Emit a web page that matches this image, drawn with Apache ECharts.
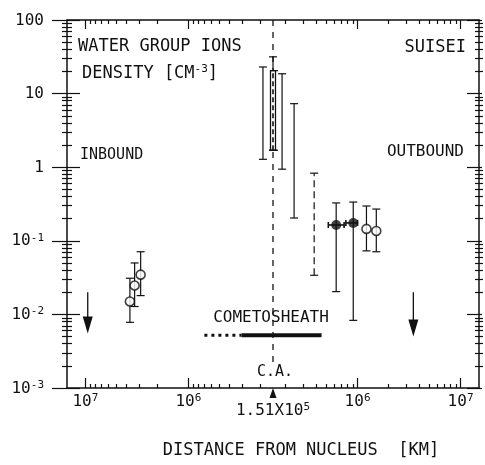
<!DOCTYPE html>
<html><head><meta charset="utf-8">
<script src="https://cdn.jsdelivr.net/npm/echarts@6/dist/echarts.min.js"></script>
<style>html,body{margin:0;padding:0;background:#fff}#c{width:485px;height:465px}</style>
</head><body><div id="c"></div>
<script>
// ---------- data ----------
const caDistance = 1.51e5;            // closest approach, km
const xMin = -2.0, xMax = 2.0;        // axis extent in decades from C.A.
const yMin = 1e-3, yMax = 100;

// open circles
const openSide = ['in', 'in', 'in', 'out', 'out'];
const openDist = [3.7e6, 3.33e6, 2.91e6, 1.22e6, 1.52e6];
const openDens = [0.015, 0.0247, 0.0347, 0.145, 0.136];
const openLow  = [0.0078, 0.0128, 0.018, 0.073, 0.071];
const openHigh = [0.031, 0.05, 0.071, 0.297, 0.27];

// filled circles
const filledSide = ['out', 'out'];
const filledDist = [6.2e5, 9.08e5];
const filledDens = [0.164, 0.175];
const filledLow  = [0.0204, 0.0083];
const filledHigh = [0.327, 0.336];
const filledDistLow  = [5.2e5, 7.7e5];
const filledDistHigh = [7.4e5, 1.0e6];

// range-only bars near closest approach
const rangeSide = ['in', 'ca', 'out', 'out', 'out'];
const rangeDist = [1.89e5, 1.51e5, 1.85e5, 2.42e5, 3.79e5];
const rangeLow  = [1.28, 1.7, 0.94, 0.204, 0.034];
const rangeHigh = [23, 31.6, 18.6, 7.3, 0.83];
const rangeDashed = [0, 0, 0, 0, 1];

// thick band at C.A.
const caBandLow = 1.7, caBandHigh = 20.5;

// upper limits (arrows)
const limitSide = ['in', 'out'];
const limitDist = [9.5e6, 3.48e6];
const limitFrom = [0.02, 0.02];
const limitTo   = [0.0055, 0.005];

// cometosheath bar
const sheathDens = 0.0052;
const sheathDottedSide = ['in', 'in'];
const sheathDottedDist = [7.0e5, 3.05e5];
const sheathSolidSide = ['in', 'out'];
const sheathSolidDist = [3.05e5, 4.47e5];

// C.A. dashed line
const caLineTop = 100, caLineBottom = 0.0022;

// ticks
const xMajorSide = ['in', 'in', 'out', 'out'];
const xMajorDist = [1e7, 1e6, 1e6, 1e7];
const xMajorLabels = ['{b|10}{s|7}', '{b|10}{s|6}', '{b|10}{s|6}', '{b|10}{s|7}'];
const xMinorDist = [2e5, 3e5, 4e5, 5e5, 6e5, 7e5, 8e5, 9e5, 2e6, 3e6, 4e6, 5e6, 6e6, 7e6, 8e6, 9e6];
const caLabel = '{b|1.51X10}{s|5}';
const yMajorVals = [1e-3, 1e-2, 1e-1, 1, 10, 100];
const yMajorLabels = ['{b|10}{s|-3}', '{b|10}{s|-2}', '{b|10}{s|-1}', '{b|1}', '{b|10}', '{b|100}'];
const yMinorVals = [
  2e-3, 3e-3, 4e-3, 5e-3, 6e-3, 7e-3, 8e-3, 9e-3,
  2e-2, 3e-2, 4e-2, 5e-2, 6e-2, 7e-2, 8e-2, 9e-2,
  0.2, 0.3, 0.4, 0.5, 0.6, 0.7, 0.8, 0.9,
  2, 3, 4, 5, 6, 7, 8, 9,
  20, 30, 40, 50, 60, 70, 80, 90
];

// ---------- helpers ----------
const LOG_CA = Math.log10(caDistance);
function toU(side, d) {
  if (side === 'ca') return 0;
  const v = Math.log10(d) - LOG_CA;
  return side === 'in' ? -v : v;
}
const FONT = 'DejaVu Sans Mono';
const INK = '#111';

const xMajorU = xMajorSide.map((s, i) => toU(s, xMajorDist[i]));
const xMinorU = xMinorDist.map(d => toU('in', d)).concat(xMinorDist.map(d => toU('out', d)));
const yMajorLog = yMajorVals.map(v => Math.log10(v));
const yMinorLog = yMinorVals.map(v => Math.log10(v));
function nearestIdx(arr, v) {
  let best = 0; for (let i = 1; i < arr.length; i++) if (Math.abs(arr[i] - v) < Math.abs(arr[best] - v)) best = i; return best;
}

const supRich = {
  b: { fontFamily: FONT, fontSize: 16, color: INK, verticalAlign: 'bottom', lineHeight: 17 },
  s: { fontFamily: FONT, fontSize: 11, color: INK, verticalAlign: 'top', lineHeight: 11, padding: [0, 0, 11, 0] }
};

function tickX(pos, inside, len, vals, extra) {
  return Object.assign({
    type: 'value', position: pos, min: xMin, max: xMax, gridIndex: 0,
    axisLine: { show: false, onZero: false },
    axisLabel: { show: false }, splitLine: { show: false },
    axisTick: { show: true, inside: inside, length: len, customValues: vals, lineStyle: { color: INK, width: 1.2 } }
  }, extra || {});
}
function tickY(pos, inside, len, vals, extra) {
  return Object.assign({
    type: 'value', position: pos, min: -3, max: 2, gridIndex: 0,
    axisLine: { show: false, onZero: false },
    axisLabel: { show: false }, splitLine: { show: false },
    axisTick: { show: true, inside: inside, length: len, customValues: vals, lineStyle: { color: INK, width: 1.2 } }
  }, extra || {});
}
const axisLineStyle = { show: true, onZero: false, lineStyle: { color: INK, width: 1.5 } };

// ---------- render functions ----------
function vbar(api, x, lo, hi, dashed, cap, w) {
  const a = api.coord([x, lo]), b = api.coord([x, hi]);
  const st = { stroke: INK, lineWidth: w || 1.2 };
  const ls = Object.assign({}, st, dashed ? { lineDash: [7, 4] } : {});
  return [
    { type: 'line', shape: { x1: a[0], y1: a[1], x2: b[0], y2: b[1] }, style: ls },
    { type: 'line', shape: { x1: a[0] - cap, y1: a[1], x2: a[0] + cap, y2: a[1] }, style: st },
    { type: 'line', shape: { x1: b[0] - cap, y1: b[1], x2: b[0] + cap, y2: b[1] }, style: st }
  ];
}

const option = {
  animation: false,
  backgroundColor: '#fff',
  textStyle: { fontFamily: FONT, color: INK },
  grid: { left: 67, right: 6, top: 20, bottom: 77, containLabel: false },
  xAxis: [
    // 0 main bottom axis with minor ticks
    tickX('bottom', true, 4, xMinorU, { axisLine: axisLineStyle }),
    // 1 major bottom ticks + labels
    tickX('bottom', true, 10, xMajorU, {
      axisLabel: {
        show: true, customValues: xMajorU, margin: 5,
        formatter: v => xMajorLabels[nearestIdx(xMajorU, v)], rich: supRich
      }
    }),
    // 2 C.A. label
    tickX('bottom', true, 0, [0], {
      axisTick: { show: false },
      axisLabel: { show: true, customValues: [0], margin: 14, formatter: () => caLabel, rich: supRich }
    }),
    // 3 top border with minor ticks
    tickX('top', true, 4, xMinorU, { axisLine: axisLineStyle }),
    // 4 top major ticks
    tickX('top', true, 9, xMajorU)
  ],
  yAxis: [
    // 0 main log axis (data)
    {
      type: 'log', logBase: 10, min: yMin, max: yMax, position: 'left',
      axisLine: axisLineStyle, axisTick: { show: false }, axisLabel: { show: false }, splitLine: { show: false }
    },
    // 1 left major outside + labels
    tickY('left', false, 15, yMajorLog, {
      axisLabel: {
        show: true, customValues: yMajorLog, margin: 23, align: 'right',
        formatter: v => yMajorLabels[nearestIdx(yMajorLog, v)], rich: supRich
      }
    }),
    tickY('left', true, 13, yMajorLog),
    tickY('left', false, 5, yMinorLog),
    tickY('left', true, 5, yMinorLog),
    // right border
    tickY('right', true, 12, yMajorLog, { axisLine: axisLineStyle }),
    tickY('right', false, 3, yMajorLog),
    tickY('right', false, 4, yMinorLog),
    tickY('right', true, 4, yMinorLog)
  ],
  graphic: [
    { type: 'text', x: 78, y: 47, style: { text: 'WATER GROUP IONS', font: '17px "DejaVu Sans Mono"', fill: INK, textVerticalAlign: 'middle' } },
    { type: 'text', x: 82, y: 73, style: {
        text: '{b|DENSITY [CM}{s|-3}{b|]}', fill: INK, textVerticalAlign: 'middle',
        rich: {
          b: { fontFamily: FONT, fontSize: 17, fill: INK, verticalAlign: 'bottom', lineHeight: 18 },
          s: { fontFamily: FONT, fontSize: 11, fill: INK, verticalAlign: 'top', lineHeight: 11, padding: [0, 0, 12, 0] }
        }
      } },
    { type: 'text', x: 80, y: 155, style: { text: 'INBOUND', font: '15px "DejaVu Sans Mono"', fill: INK, textVerticalAlign: 'middle' } },
    { type: 'text', x: 466, y: 48, style: { text: 'SUISEI', font: '17px "DejaVu Sans Mono"', fill: INK, textAlign: 'right', textVerticalAlign: 'middle' } },
    { type: 'text', x: 464, y: 152, style: { text: 'OUTBOUND', font: '16px "DejaVu Sans Mono"', fill: INK, textAlign: 'right', textVerticalAlign: 'middle' } },
    { type: 'text', x: 271, y: 318, style: { text: 'COMETOSHEATH', font: '16px "DejaVu Sans Mono"', fill: INK, textAlign: 'center', textVerticalAlign: 'middle' } },
    { type: 'text', x: 275, y: 372, style: { text: 'C.A.', font: '15px "DejaVu Sans Mono"', fill: INK, textAlign: 'center', textVerticalAlign: 'middle' } },
    { type: 'text', x: 301, y: 451, style: { text: 'DISTANCE FROM NUCLEUS  [KM]', font: '17px "DejaVu Sans Mono"', fill: INK, textAlign: 'center', textVerticalAlign: 'middle' } }
  ],
  series: [
    // C.A. dashed line
    {
      type: 'line', xAxisIndex: 0, yAxisIndex: 0, symbol: 'none', silent: true, z: 1,
      data: [[0, caLineTop], [0, caLineBottom]],
      lineStyle: { color: INK, width: 1.3, type: [6, 6] }
    },
    // cometosheath dotted part
    {
      type: 'line', xAxisIndex: 0, yAxisIndex: 0, symbol: 'none', silent: true,
      data: sheathDottedSide.map((s, i) => [toU(s, sheathDottedDist[i]), sheathDens]),
      lineStyle: { color: INK, width: 3, type: [3, 4] }
    },
    // cometosheath solid part
    {
      type: 'line', xAxisIndex: 0, yAxisIndex: 0, symbol: 'none', silent: true,
      data: sheathSolidSide.map((s, i) => [toU(s, sheathSolidDist[i]), sheathDens]),
      lineStyle: { color: INK, width: 4, cap: 'butt' }
    },
    // range bars
    {
      type: 'custom', xAxisIndex: 0, yAxisIndex: 0, z: 3,
      data: rangeSide.map((s, i) => [toU(s, rangeDist[i]), rangeLow[i], rangeHigh[i], rangeDashed[i]]),
      renderItem: (params, api) => ({
        type: 'group',
        children: vbar(api, api.value(0), api.value(1), api.value(2), api.value(3) === 1, 4)
      })
    },
    // thick C.A. band
    {
      type: 'custom', xAxisIndex: 0, yAxisIndex: 0, z: 4,
      data: [[0, caBandLow, caBandHigh]],
      renderItem: (params, api) => {
        const a = api.coord([api.value(0), api.value(1)]);
        const b = api.coord([api.value(0), api.value(2)]);
        return {
          type: 'group', children: [
            { type: 'rect', shape: { x: a[0] - 2.5, y: b[1], width: 5, height: a[1] - b[1] }, style: { fill: '#fff', stroke: INK, lineWidth: 1.3 } },
            { type: 'line', shape: { x1: a[0], y1: a[1], x2: b[0], y2: b[1] }, style: { stroke: INK, lineWidth: 1.6, lineDash: [5, 3] } },
            { type: 'line', shape: { x1: b[0] - 3, y1: b[1], x2: b[0] + 5, y2: b[1] }, style: { stroke: INK, lineWidth: 1.2 } },
            { type: 'line', shape: { x1: a[0] - 4, y1: a[1], x2: a[0] + 5, y2: a[1] }, style: { stroke: INK, lineWidth: 1.2 } }
          ]
        };
      }
    },
    // open-circle error bars
    {
      type: 'custom', xAxisIndex: 0, yAxisIndex: 0, z: 3,
      data: openSide.map((s, i) => [toU(s, openDist[i]), openLow[i], openHigh[i]]),
      renderItem: (params, api) => ({ type: 'group', children: vbar(api, api.value(0), api.value(1), api.value(2), false, 4) })
    },
    // filled-circle error bars (vertical + horizontal)
    {
      type: 'custom', xAxisIndex: 0, yAxisIndex: 0, z: 3,
      data: filledSide.map((s, i) => [toU(s, filledDist[i]), filledLow[i], filledHigh[i], toU(s, filledDistLow[i]), toU(s, filledDistHigh[i]), filledDens[i]]),
      renderItem: (params, api) => {
        const kids = vbar(api, api.value(0), api.value(1), api.value(2), false, 4);
        const l = api.coord([api.value(3), api.value(5)]);
        const r = api.coord([api.value(4), api.value(5)]);
        const st = { stroke: INK, lineWidth: 1.6 };
        kids.push({ type: 'line', shape: { x1: l[0], y1: l[1], x2: r[0], y2: r[1] }, style: st });
        kids.push({ type: 'line', shape: { x1: l[0], y1: l[1] - 3, x2: l[0], y2: l[1] + 3 }, style: st });
        kids.push({ type: 'line', shape: { x1: r[0], y1: r[1] - 3, x2: r[0], y2: r[1] + 3 }, style: st });
        return { type: 'group', children: kids };
      }
    },
    // upper-limit arrows
    {
      type: 'custom', xAxisIndex: 0, yAxisIndex: 0, z: 3,
      data: limitSide.map((s, i) => [toU(s, limitDist[i]), limitFrom[i], limitTo[i]]),
      renderItem: (params, api) => {
        const a = api.coord([api.value(0), api.value(1)]);
        const b = api.coord([api.value(0), api.value(2)]);
        return {
          type: 'group', children: [
            { type: 'line', shape: { x1: a[0], y1: a[1], x2: b[0], y2: b[1] - 10 }, style: { stroke: INK, lineWidth: 1.3 } },
            { type: 'polygon', shape: { points: [[b[0], b[1]], [b[0] - 5, b[1] - 17], [b[0] + 5, b[1] - 17]] }, style: { fill: INK } }
          ]
        };
      }
    },
    // C.A. marker on axis
    {
      type: 'custom', xAxisIndex: 0, yAxisIndex: 0, z: 5,
      data: [[0, yMin]],
      renderItem: (params, api) => {
        const p = api.coord([api.value(0), api.value(1)]);
        return { type: 'polygon', shape: { points: [[p[0], p[1]], [p[0] - 3.5, p[1] + 10], [p[0] + 3.5, p[1] + 10]] }, style: { fill: INK } };
      }
    },
    // open circles
    {
      type: 'scatter', xAxisIndex: 0, yAxisIndex: 0, z: 6, symbol: 'circle', symbolSize: 9,
      data: openSide.map((s, i) => [toU(s, openDist[i]), openDens[i]]),
      itemStyle: { color: '#fff', borderColor: INK, borderWidth: 1.6 }
    },
    // filled circles
    {
      type: 'scatter', xAxisIndex: 0, yAxisIndex: 0, z: 6, symbol: 'circle', symbolSize: 10,
      data: filledSide.map((s, i) => [toU(s, filledDist[i]), filledDens[i]]),
      itemStyle: { color: INK }
    }
  ]
};

const chart = echarts.init(document.getElementById('c'), null, { renderer: 'canvas' });
chart.setOption(option);
</script>
</body></html>
